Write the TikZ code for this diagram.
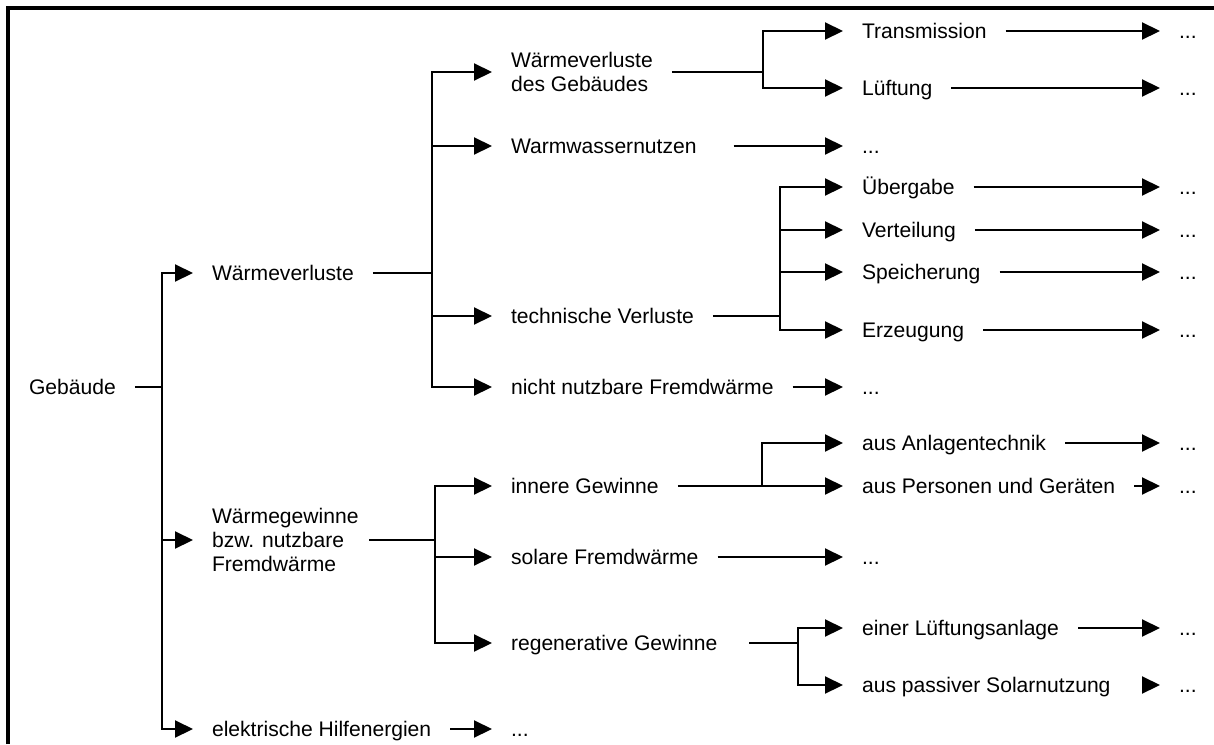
\documentclass[tikz,border=0pt]{standalone}
\usepackage{fontspec}
\setmainfont{Liberation Sans}
\usepackage{tikz}
\usetikzlibrary{arrows.meta}
\usetikzlibrary{calc}

\begin{document}
\begin{tikzpicture}[x=0.02cm,y=-0.02cm,->,>={Triangle[length=0.36cm,width=0.34cm]},
  line width=1.2pt,
  item node/.style={anchor=west,inner xsep=0.36cm,inner ysep=0pt,
    font=\fontsize{12}{13.6}\selectfont},
  leaf node/.style={item node,text height=10pt,text depth=1.4pt},
  block node/.style={item node,align=left},
  heavy/.style={line width=1.5pt}]

\useasboundingbox (0,0) rectangle (1214,744);
\draw[-,line width=2pt] (8,744) -- (8,8) -- (1214,8);

\foreach \n/\x/\y/\t in {geb/10/387/Gebäude, wv/193/273/Wärmeverluste,
  eh/193/729/elektrische Hilfenergien, ww/492/146/Warmwassernutzen,
  tv/492/316/technische Verluste, nnf/492/387/nicht nutzbare Fremdwärme,
  ig/492/486/innere Gewinne, sf/492/557/solare Fremdwärme,
  rg/492/643/regenerative Gewinne, tr/843/31/Transmission,
  lu/843/88/Lüftung, ue/843/187/Übergabe, ve/843/230/Verteilung,
  sp/843/272/Speicherung, er/843/330/Erzeugung,
  aa/843/443/aus Anlagentechnik, ap/843/486/aus Personen und Geräten,
  la/843/628/einer Lüftungsanlage, ps/843/685/aus passiver Solarnutzung}
  \node[leaf node] (\n) at (\x,\y) {\t};

\node[block node] (wvg) at (492,72) {Wärmeverluste\\des Gebäudes};
\node[block node] (wg) at (193,540) {Wärmegewinne\\bzw. nutzbare\\Fremdwärme};

% branching points
\coordinate (jgeb) at (162,0 |- geb.east);
\coordinate (jwv) at (432,0 |- wv.east);
\coordinate (jwg) at (435,0 |- wg.east);
\coordinate (jwvg) at (763,0 |- wvg.east);
\coordinate (jtv) at (780,0 |- tv.east);
\coordinate (jig) at (762,0 |- ig.east);
\coordinate (jrg) at (798,0 |- rg.east);

\draw[-,heavy] (geb.east) -- (jgeb);
\draw[-,heavy] (wv.east) -- (jwv);
\draw[-,heavy] (tv.east) -- (jtv);
\draw[-,shorten <=-4.6pt] (wg.east) -- (jwg);
\draw[-] (wvg.east) -- (jwvg);
\draw[-] (ig.east) -- (jig);
\draw[-,shorten <=7.4pt] (rg.east) -- (jrg);

\foreach \c in {wv,wg,eh} \draw (jgeb) |- (\c.west);
\foreach \c in {wvg,ww,tv,nnf} \draw (jwv) |- (\c.west);
\foreach \c in {ig,sf,rg} \draw (jwg) |- (\c.west);
\foreach \c in {tr,lu} \draw (jwvg) |- (\c.west);
\foreach \c in {ue,ve,sp,er} \draw (jtv) |- (\c.west);
\foreach \c in {aa,ap} \draw (jig) |- (\c.west);
\foreach \c in {la,ps} \draw (jrg) |- (\c.west);

% open ends
\foreach \n/\x/\s in {tr/1160/0, lu/1160/0, ww/843/10.2, nnf/843/0,
  ue/1160/0, ve/1160/0, sp/1160/0, er/1160/0, sf/843/0, aa/1160/0,
  ap/1160/0, la/1160/0, ps/1160/8, eh/492/0}{
  \node[leaf node] (d\n) at (\x,0 |- \n.west) {...};
  \draw[shorten <=\s pt] (\n.east) -- (d\n.west);
}
\end{tikzpicture}
\end{document}
